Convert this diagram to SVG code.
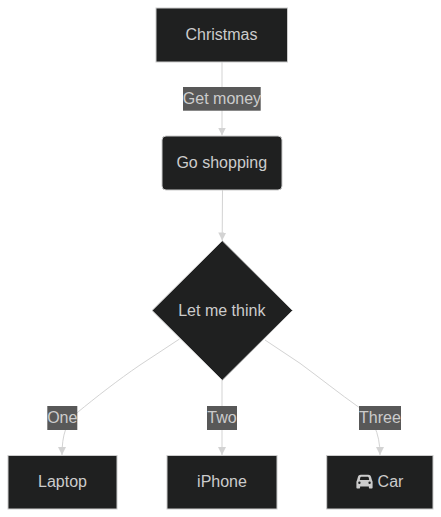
<svg xmlns="http://www.w3.org/2000/svg" width="441" height="517" viewBox="0 0 441 517">
<style>
.n{fill:#1f2020;stroke:#cccccc;stroke-width:1}
.t{font-family:"Liberation Sans",Arial,sans-serif;font-size:16px;fill:#cccccc;text-anchor:middle}
.e{fill:none;stroke:#d3d3d3;stroke-width:1}
.l{fill:#585858}
</style>
<defs>
<marker id="a" markerUnits="userSpaceOnUse" markerWidth="8" markerHeight="8" refX="8" refY="4" orient="auto"><path d="M0 0L8 4L0 8Z" fill="#d3d3d3"/></marker>
</defs>
<rect width="441" height="517" fill="#ffffff"/>
<g id="connectors">
<path class="e" marker-end="url(#a)" d="M222 62V135.500"/>
<path class="e" marker-end="url(#a)" d="M222.500 190L222.200 240.500"/>
<path class="e" marker-end="url(#a)" d="M179.500 339L140 365C118 380 95 398 78 412C66 422 62 435 62 455"/>
<path class="e" marker-end="url(#a)" d="M222 380V455"/>
<path class="e" marker-end="url(#a)" d="M265 340L300 363.300C320 378 340 394 358.500 407C372 417 380 432 380 455"/>
</g>
<g id="edge-labels">
<g id="label-get-money"><rect class="l" x="183" y="87" width="77.700" height="23.700"/><text class="t" x="222" y="104">Get money</text></g>
<g id="label-one"><rect class="l" x="47.300" y="406" width="30" height="24"/><text class="t" x="62.300" y="423">One</text></g>
<g id="label-two"><rect class="l" x="207" y="406" width="30" height="24"/><text class="t" x="222" y="423">Two</text></g>
<g id="label-three"><rect class="l" x="359" y="406" width="42" height="24"/><text class="t" x="380" y="423">Three</text></g>
</g>
<g id="christmas"><rect class="n" x="156" y="8" width="131.500" height="54"/><text class="t" x="221.500" y="40">Christmas</text></g>
<g id="go-shopping"><rect class="n" x="162" y="136" width="120" height="54" rx="4" ry="4"/><text class="t" x="221.800" y="168">Go shopping</text></g>
<g id="let-me-think"><polygon class="n" points="222.300,240.700 292.500,310.500 222.300,380.300 152.100,310.500"/><text class="t" x="221.800" y="316">Let me think</text></g>
<g id="laptop"><rect class="n" x="8" y="455.500" width="109" height="53.500"/><text class="t" x="62.500" y="487">Laptop</text></g>
<g id="iphone"><rect class="n" x="167" y="455.500" width="110" height="53.500"/><text class="t" x="222" y="487">iPhone</text></g>
<g id="car"><rect class="n" x="326.700" y="455.500" width="106.300" height="53.500"/>
<path fill="#cccccc" fill-rule="evenodd" d="M360.800 474.700H368.200C369.600 474.700 370.700 475.600 371.100 476.900L372 480.300C372.500 480.800 372.600 481.500 372.600 482.300V487.400C372.600 488 372.200 488.500 371.600 488.500H369.900C369.300 488.500 368.900 488 368.900 487.400V486.400H360.100V487.400C360.100 488 359.700 488.500 359.100 488.500H357.400C356.800 488.500 356.400 488 356.400 487.400V482.300C356.400 481.500 356.500 480.800 357 480.300L357.900 476.900C358.300 475.600 359.400 474.700 360.800 474.700ZM361.300 476.700C360.800 476.700 360.500 477 360.300 477.500L359.800 479.900H369.200L368.700 477.500C368.500 477 368.200 476.700 367.700 476.700ZM359.400 481.500A1.200 1.200 0 1 0 359.400 483.900A1.200 1.200 0 1 0 359.400 481.500ZM369.600 481.500A1.200 1.200 0 1 0 369.600 483.900A1.200 1.200 0 1 0 369.600 481.500Z"/>
<text class="t" x="390.500" y="487">Car</text></g>
</svg>
